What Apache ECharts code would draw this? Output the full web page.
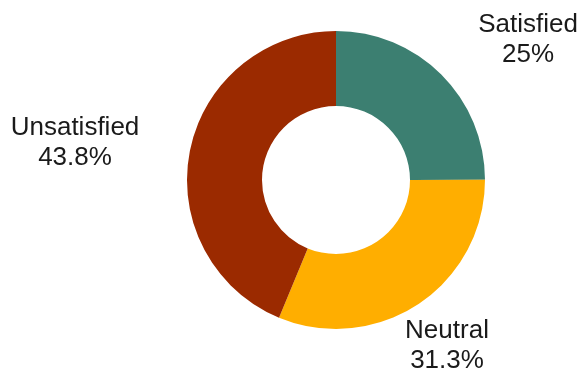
<!DOCTYPE html>
<html>
<head>
<meta charset="utf-8">
<title>Satisfaction</title>
<script src="https://cdn.jsdelivr.net/npm/echarts@6/dist/echarts.min.js"></script>
<style>
  html, body { margin: 0; padding: 0; background: #fff; }
  #chart { width: 581px; height: 375px; }
</style>
</head>
<body>
<div id="chart"></div>
<script>
// data
var categories = ['Satisfied', 'Neutral', 'Unsatisfied'];
var values = [25, 31.3, 43.8];
var colors = ['#3c7f71', '#ffae00', '#9b2a00'];

// where each label sits (centre of the text block)
var labelPos = [[528, 40], [447, 346], [75, 143]];

var chart = echarts.init(document.getElementById('chart'));
chart.setOption({
  animation: false,
  color: colors,
  series: [{
    type: 'pie',
    center: [336, 180],
    radius: [74, 149],
    startAngle: 90,
    clockwise: true,
    data: categories.map(function (c, i) { return { name: c, value: values[i] }; }),
    label: {
      show: true,
      position: 'outside',
      alignTo: 'none',
      overflow: 'none',
      formatter: function (p) { return p.name + '\n' + p.value + '%'; },
      fontFamily: '"Liberation Sans", Arial, sans-serif',
      fontSize: 26,
      lineHeight: 30,
      color: '#1a1a1a',
      align: 'center'
    },
    labelLine: { show: false },
    labelLayout: function (params) {
      var pos = labelPos[params.dataIndex];
      return { x: pos[0], y: pos[1], align: 'center', verticalAlign: 'middle' };
    },
    itemStyle: { borderWidth: 0 },
    emphasis: { disabled: true }
  }]
});
</script>
</body>
</html>
